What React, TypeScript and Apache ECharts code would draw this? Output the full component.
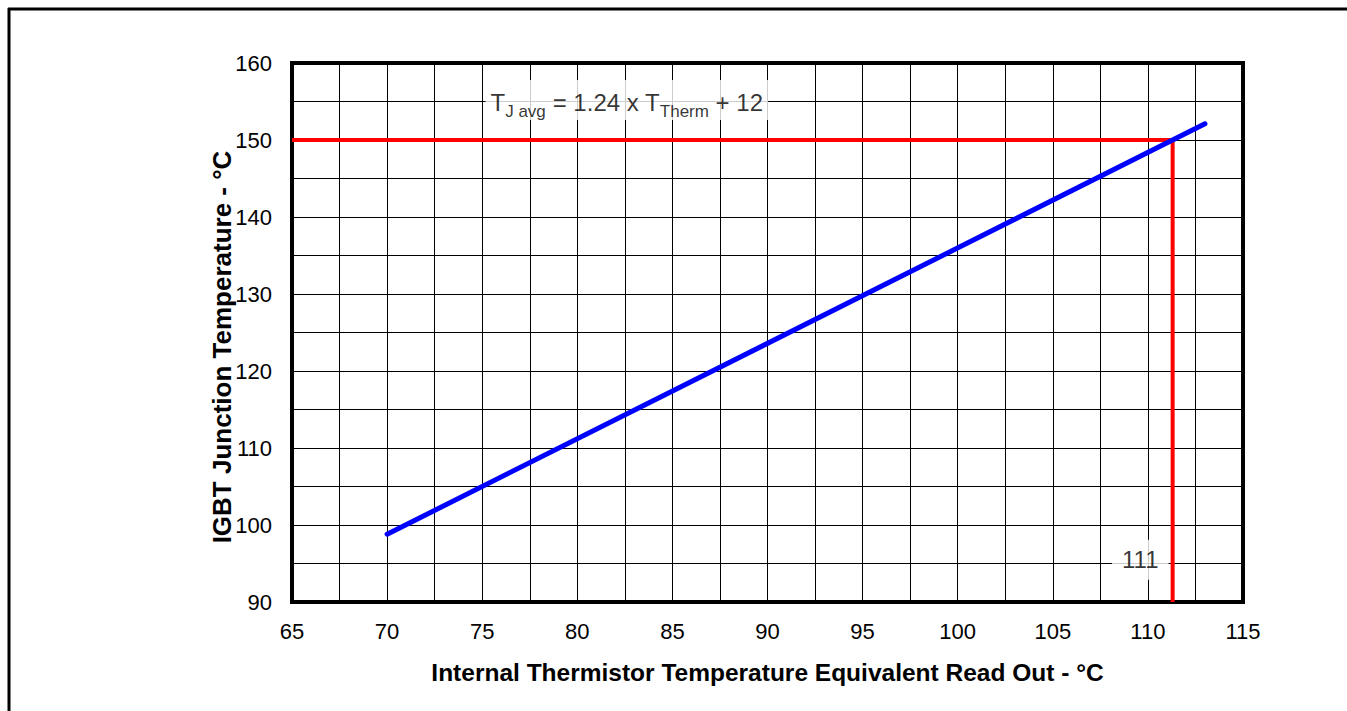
import React, { useEffect, useRef } from "react";
import * as echarts from "echarts";

const xTicks = [65, 70, 75, 80, 85, 90, 95, 100, 105, 110, 115];
const yTicks = [90, 100, 110, 120, 130, 140, 150, 160];
const fitX = [70, 113];
const fitY = [98.8, 152.1];
const markerX = [65, 111.3, 111.3];
const markerY = [150, 150, 90];
const equationPos = [82.6, 155.2];
const readoutPos = [109.6, 95.5];
const readoutText = "111";
const xTitle = "Internal Thermistor Temperature Equivalent Read Out - °C";
const yTitle = "IGBT Junction Temperature - °C";

const CW = 1347;
const CH = 711;

export default function App() {
  const ref = useRef<HTMLDivElement>(null);
  useEffect(() => {
    if (!ref.current) return;
    const chart = echarts.init(ref.current, null, { renderer: "svg" });
    const font = "'Liberation Sans', Arial, sans-serif";
    chart.setOption({
      animation: false,
      backgroundColor: "#fff",
      textStyle: { fontFamily: font },
      graphic: [
        {
          type: "line",
          shape: { x1: 8, y1: 9, x2: CW + 10, y2: 9 },
          style: { stroke: "#000", lineWidth: 3 },
          silent: true,
          z: 100,
        },
        {
          type: "line",
          shape: { x1: 9, y1: 8, x2: 9, y2: CH + 10 },
          style: { stroke: "#000", lineWidth: 3 },
          silent: true,
          z: 100,
        },
        {
          type: "text",
          x: 222,
          y: 347,
          rotation: Math.PI / 2,
          style: {
            text: yTitle,
            fill: "#000",
            font: `bold 26px ${font}`,
            align: "center",
            verticalAlign: "middle",
          },
          silent: true,
        },
      ],
      grid: {
        left: 292,
        right: CW - 1243,
        top: 63,
        bottom: CH - 602,
        show: true,
        borderColor: "#000",
        borderWidth: 4,
        backgroundColor: "transparent",
      },
      xAxis: {
        type: "value",
        min: xTicks[0],
        max: xTicks[xTicks.length - 1],
        interval: 5,
        axisLine: { show: false },
        axisTick: { show: false },
        axisLabel: { color: "#000", fontSize: 22, margin: 18, fontFamily: font },
        splitLine: { show: true, lineStyle: { color: "#000", width: 1 } },
        minorTick: { show: false, splitNumber: 2 },
        minorSplitLine: { show: true, lineStyle: { color: "#000", width: 1 } },
        name: xTitle,
        nameLocation: "middle",
        nameGap: 58,
        nameTextStyle: { color: "#000", fontSize: 24.5, fontWeight: "bold", fontFamily: font },
      },
      yAxis: {
        type: "value",
        min: yTicks[0],
        max: yTicks[yTicks.length - 1],
        interval: 10,
        axisLine: { show: false },
        axisTick: { show: false },
        axisLabel: { color: "#000", fontSize: 22, margin: 20, fontFamily: font },
        splitLine: { show: true, lineStyle: { color: "#000", width: 1 } },
        minorTick: { show: false, splitNumber: 2 },
        minorSplitLine: { show: true, lineStyle: { color: "#000", width: 1 } },
      },
      series: [
        {
          type: "line",
          data: markerX.map((x, i) => [x, markerY[i]]),
          symbol: "none",
          lineStyle: { color: "#ff0000", width: 4 },
          z: 3,
        },
        {
          type: "line",
          data: fitX.map((x, i) => [x, fitY[i]]),
          symbol: "none",
          lineStyle: { color: "#0000ff", width: 5, cap: "round" },
          z: 4,
        },
        {
          type: "scatter",
          data: [equationPos],
          symbolSize: 0,
          z: 5,
          label: {
            show: true,
            position: "inside",
            backgroundColor: "#fff",
            padding: [5, 5],
            formatter: "{t|T}{s|J avg}{t| = 1.24 x T}{s|Therm}{t| + 12}",
            rich: {
              t: { fontSize: 24, color: "#000", fontFamily: font, verticalAlign: "bottom", lineHeight: 30 },
              s: { fontSize: 17, color: "#000", fontFamily: font, verticalAlign: "bottom", lineHeight: 22, padding: [0, 0, -5, 0] },
            },
          },
        },
        {
          type: "scatter",
          data: [readoutPos],
          symbolSize: 0,
          z: 5,
          label: {
            show: true,
            position: "inside",
            backgroundColor: "#fff",
            padding: [8, 10],
            formatter: readoutText,
            color: "#000",
            fontSize: 24,
            fontFamily: font,
          },
        },
      ],
    });
    return () => chart.dispose();
  }, []);
  return (
    <div
      ref={ref}
      style={{ position: "fixed", left: 0, top: 0, width: CW, height: CH }}
    />
  );
}
